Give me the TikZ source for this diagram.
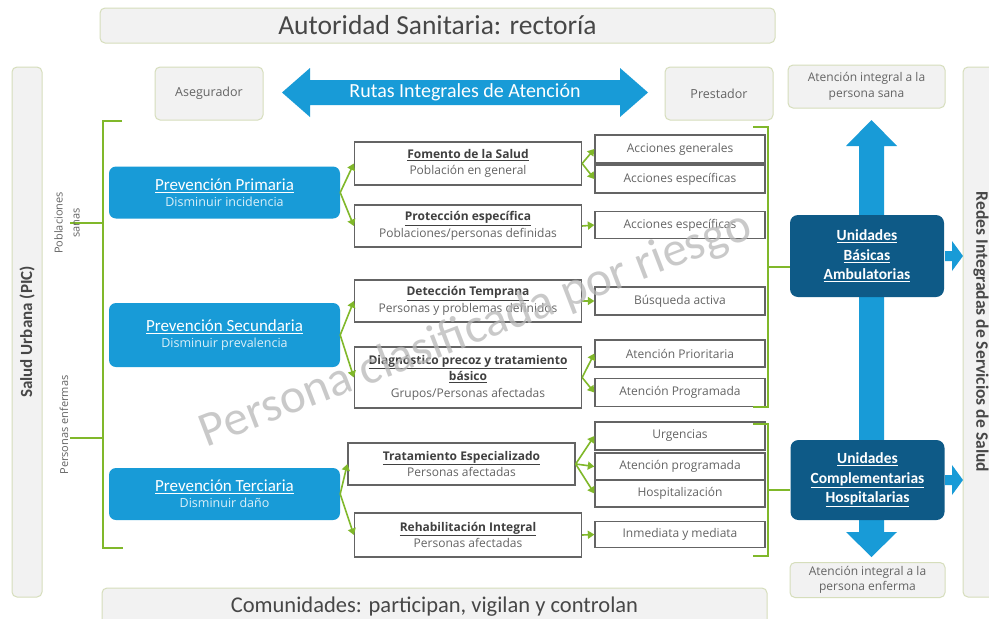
\documentclass[tikz,border=0pt]{standalone}
\usepackage{fontspec}
\setmainfont{Carlito}
\newfontfamily\osf{Open Sans}
\usetikzlibrary{arrows.meta,calc}
\definecolor{cblue}{RGB}{24,155,215}
\definecolor{dblue}{RGB}{14,90,135}
\definecolor{cgreen}{RGB}{128,184,42}
\definecolor{bgray}{RGB}{242,242,242}
\definecolor{bline}{RGB}{214,222,188}
\definecolor{tgray}{RGB}{100,100,100}
\definecolor{boxline}{RGB}{100,100,100}
\newcommand\myfs[2]{\fontsize{#1}{#2}\selectfont}
\newcommand\ttl[1]{{\bfseries\color{black!75}\underline{#1}}}
\begin{document}
\begin{tikzpicture}[x=1pt,y=-1pt,
  greybar/.style={draw=bline, fill=bgray, rounded corners=5pt, line width=1pt, inner sep=0pt, text=tgray, align=center},
  prevbox/.style={fill=cblue, rounded corners=7pt, inner sep=0pt, text=white, align=center},
  midbox/.style={draw=boxline, line width=1.3pt, fill=white, inner sep=0pt, align=center, text=tgray, font=\osf\myfs{12}{16.5}},
  actbox/.style={draw=boxline, line width=1.3pt, fill=white, inner sep=0pt, text=tgray, font=\osf\myfs{12}{13}, minimum width=170pt},
  unitbox/.style={fill=dblue, rounded corners=8pt, inner sep=0pt, text=white, align=center, font=\bfseries\myfs{15.5}{19.5}, minimum width=154pt},
  garrow/.style={draw=cgreen, line width=1.6pt, -{Triangle[length=6.5pt,width=8pt]}},
  gbrace/.style={draw=cgreen, line width=2.6pt}
]
\useasboundingbox (0,0) rectangle (989,619);
\fill[white] (0,0) rectangle (989,619);

% --- grey frame bars
\node[greybar, minimum width=675pt, minimum height=35pt, font=\myfs{27.5}{29}, text=black!72] (top) at (437.5,25.5) {Autoridad Sanitaria: rectoría};
\node[greybar, minimum width=665pt, minimum height=38pt, font=\myfs{22.5}{24}, text=black!72] (bot) at (434.5,607) {Comunidades: participan, vigilan y controlan};
\node[greybar, rotate=90, minimum width=530pt, minimum height=30pt, font=\bfseries\myfs{17}{18}, text=black!72] (lbar) at (27,332) {Salud Urbana (PIC)};
\node[greybar, rotate=-90, minimum width=530pt, minimum height=36pt, font=\bfseries\myfs{17.5}{18}, text=black!72] (rbar) at (981,332) {Redes Integradas de Servicios de Salud};

\node[greybar, minimum width=108pt, minimum height=53pt, font=\osf\myfs{12.5}{14}] (aseg) at (209,93.5) {Asegurador};
\node[greybar, minimum width=108pt, minimum height=53pt, font=\osf\myfs{12.5}{14}] (prest) at (719,93.5) {Prestador};
\node[greybar, minimum width=157pt, minimum height=43pt, font=\osf\myfs{12}{16}] (sana) at (866.5,86.5) {Atención integral a la\\persona sana};
\node[greybar, minimum width=155pt, minimum height=35pt, font=\osf\myfs{12}{15}] (enf) at (867.5,580) {Atención integral a la\\persona enferma};

% --- horizontal double arrow
\fill[cblue] (282,92.5) -- (310,68) -- (310,80) -- (620,80) -- (620,68) -- (648,92.5) -- (620,117) -- (620,105) -- (310,105) -- (310,117) -- cycle;
\node[text=white, font=\myfs{20}{22}] (rutas) at (465,92) {Rutas Integrales de Atención};

% --- vertical double arrow
\fill[cblue] (859,146) -- (846,146) -- (871.5,120) -- (897,146) -- (884,146) -- (884,532) -- (897,532) -- (871.5,557) -- (846,532) -- (859,532) -- cycle;

% --- unit boxes
\node[unitbox, minimum height=82pt] (ub) at (867,256) {\underline{Unidades}\\\underline{Básicas}\\\underline{Ambulatorias}};
\node[unitbox, minimum height=80pt] (uc) at (867.5,480) {\underline{Unidades}\\\underline{Complementarias}\\\underline{Hospitalarias}};
\fill[cblue] (945,251) -- (952,251) -- (952,241) -- (963,256) -- (952,271) -- (952,261) -- (945,261) -- cycle;
\fill[cblue] (945,475) -- (952,475) -- (952,465) -- (963,480) -- (952,495) -- (952,485) -- (945,485) -- cycle;

% --- prevention boxes
\node[prevbox, minimum width=231pt, minimum height=52pt] (prim) at (224.5,192.5) {{\myfs{17}{18}\underline{Prevención Primaria}}\\[4pt]{\osf\myfs{12.5}{13}\color{white!85!cblue}Disminuir incidencia}};
\node[prevbox, minimum width=231pt, minimum height=64pt] (sec) at (224.5,335) {{\myfs{17}{18}\underline{Prevención Secundaria}}\\[4pt]{\osf\myfs{12.5}{13}\color{white!85!cblue}Disminuir prevalencia}};
\node[prevbox, minimum width=231pt, minimum height=52pt] (ter) at (224.5,494) {{\myfs{17}{18}\underline{Prevención Terciaria}}\\[4pt]{\osf\myfs{12.5}{13}\color{white!85!cblue}Disminuir daño}};

% --- middle boxes
\node[midbox, minimum width=227pt, minimum height=43pt] (fom) at (468,163.5) {\ttl{Fomento de la Salud}\\Población en general};
\node[midbox, minimum width=227pt, minimum height=42pt] (prot) at (468,226) {\ttl{Protección específica}\\Poblaciones/personas definidas};
\node[midbox, minimum width=227pt, minimum height=42pt] (det) at (468,301) {\ttl{Detección Temprana}\\Personas y problemas definidos};
\node[midbox, minimum width=227pt, minimum height=61pt] (diag) at (468,377.5) {\ttl{Diagnóstico precoz y tratamiento}\\\ttl{básico}\\Grupos/Personas afectadas};
\node[midbox, minimum width=227pt, minimum height=42pt] (trat) at (461.5,464) {\ttl{Tratamiento Especializado}\\Personas afectadas};
\node[midbox, minimum width=227pt, minimum height=44pt] (rehab) at (468,535) {\ttl{Rehabilitación Integral}\\Personas afectadas};

% --- action boxes
\node[actbox, minimum height=28pt] (ag) at (680,149) {Acciones generales};
\node[actbox, minimum height=28pt] (ae1) at (680,179) {Acciones específicas};
\node[actbox, minimum height=27pt] (ae2) at (680,225) {Acciones específicas};
\node[actbox, minimum height=28pt] (bus) at (680,301) {Búsqueda activa};
\node[actbox, minimum height=27pt] (apri) at (680,353.5) {Atención Prioritaria};
\node[actbox, minimum height=28pt] (aprog) at (680,392.5) {Atención Programada};
\node[actbox, minimum height=28pt] (urg) at (680,436) {Urgencias};
\node[actbox, minimum height=27pt] (aprg2) at (680,466.5) {Atención programada};
\node[actbox, minimum height=27pt] (hosp) at (680,493.5) {Hospitalización};
\node[actbox, minimum height=26pt] (inm) at (680,534.5) {Inmediata y mediata};

% --- left bracket and labels
\draw[gbrace] (122,121) -- (103,121) -- (103,548) -- (123,548);
\coordinate (lt1) at (70,223);
\coordinate (lt2) at (70,438);
\draw[gbrace, line width=2.2pt] (lt1) -- (103,223);
\draw[gbrace, line width=2.2pt] (lt2) -- (103,438);
\node[rotate=90, align=center, text=tgray, font=\osf\myfs{11}{17}] (psan) at (67,223) {Poblaciones\\sanas};
\node[rotate=90, text=tgray, font=\osf\myfs{11}{12}] (penf) at (64,425) {Personas enfermas};

% --- right brackets
\draw[gbrace] (753,127) -- (768,127) -- (768,407) -- (753,407);
\draw[gbrace] (768,267) -- (ub.west |- 0,267);
\draw[gbrace] (753,424) -- (768,424) -- (768,556) -- (753,556);
\draw[gbrace] (768,490) -- (uc.west |- 0,490);

% --- green arrows prevention -> middle
\draw[garrow] (prim.east) -- (fom.west);
\draw[garrow] (prim.east) -- (prot.west);
\draw[garrow] (sec.east) -- (det.west);
\draw[garrow] (sec.east) -- (diag.west);
\draw[garrow] (ter.east) -- (trat.west);
\draw[garrow] (ter.east) -- (rehab.west);

% --- green arrows middle -> actions
\draw[garrow] (fom.east) -- (ag.west);
\draw[garrow] (fom.east) -- (ae1.west);
\draw[garrow] (prot.east) -- (ae2.west);
\draw[garrow] (det.east) -- (bus.west);
\draw[garrow] (diag.east) -- (apri.west);
\draw[garrow] (diag.east) -- (aprog.west);
\draw[garrow] (trat.east) -- (urg.west);
\draw[garrow] (trat.east) -- (aprg2.west);
\draw[garrow] (trat.east) -- (hosp.west);
\draw[garrow] (rehab.east) -- (inm.west);

% --- watermark
\node[rotate=21, text=black!28, opacity=0.75, font=\myfs{49}{51}] (wm) at (476,330) {Persona clasificada por riesgo};
\end{tikzpicture}
\end{document}
